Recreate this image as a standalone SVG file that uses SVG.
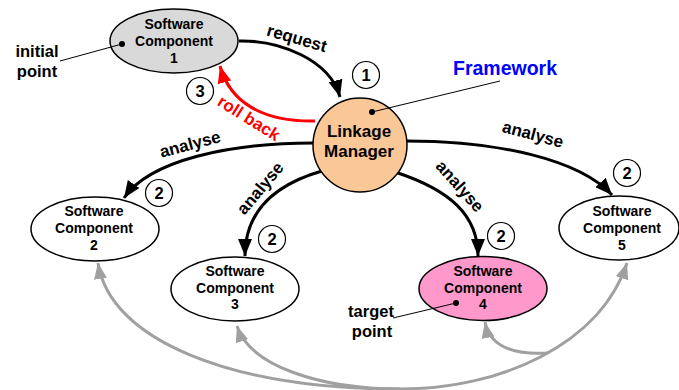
<svg xmlns="http://www.w3.org/2000/svg" width="679" height="390" viewBox="0 0 679 390">
<style>
.node{stroke:#000;stroke-width:1.5}
.nt{font-family:"Liberation Sans",Arial,sans-serif;font-weight:bold;font-size:14px;text-anchor:middle;fill:#000}
.lm{font-family:"Liberation Sans",Arial,sans-serif;font-weight:bold;font-size:17px;text-anchor:middle;fill:#000}
.lb{font-family:"Liberation Sans",Arial,sans-serif;font-weight:bold;font-size:16.5px;text-anchor:middle;fill:#000}
.al{font-family:"Liberation Sans",Arial,sans-serif;font-weight:bold;font-size:17px;text-anchor:middle;fill:#000}
.num{fill:#fff;stroke:#000;stroke-width:1.2}
.blk{fill:none;stroke:#000;stroke-width:3;marker-end:url(#ab)}
.red{fill:none;stroke:#f00;stroke-width:3;marker-end:url(#ar)}
.gry{fill:none;stroke:#a0a0a0;stroke-width:3}
.thin{stroke:#000;stroke-width:1;fill:none}
</style>
<defs>
<marker id="ab" markerUnits="userSpaceOnUse" markerWidth="18" markerHeight="14" refX="17" refY="7" orient="auto"><path d="M0,0 L17,7 L0,14 z" fill="#000"/></marker>
<marker id="ar" markerUnits="userSpaceOnUse" markerWidth="18" markerHeight="14" refX="17" refY="7" orient="auto"><path d="M0,0 L17,7 L0,14 z" fill="#f00"/></marker>
<marker id="ag" markerUnits="userSpaceOnUse" markerWidth="18" markerHeight="14" refX="16" refY="6.5" orient="auto-start-reverse"><path d="M0,0 L16,6.5 L0,13 z" fill="#a0a0a0"/></marker>
</defs>
<rect width="679" height="390" fill="#fff"/>
<g id="connectors">
<path class="blk" d="M239,41 C280,40 330,60 340,97"/>
<path class="red" d="M315,121 C262,122 230,102 220,66"/>
<path class="blk" d="M313,143 C230,143 150,160 124,198"/>
<path class="blk" d="M322,171 C270,186 245,215 245,256"/>
<path class="blk" d="M395,172 C450,190 478,215 478,256"/>
<path class="blk" d="M406,141 C500,141 580,160 612,195"/>
<path class="gry" d="M98,263 C110,340 230,389 400,389 C500,389 600,345 627,263" marker-start="url(#ag)" marker-end="url(#ag)"/>
<path class="gry" d="M237,326 C250,366 320,389 400,389" marker-start="url(#ag)"/>
<path class="gry" d="M485,322 C490,348 515,355 548,353" marker-start="url(#ag)"/>
<text class="al" transform="translate(297,38) rotate(16)" y="6">request</text>
<text class="al" transform="translate(249,118) rotate(32)" y="6" style="fill:#f00">roll back</text>
<text class="al" transform="translate(190,144) rotate(-15)" y="6">analyse</text>
<text class="al" transform="translate(260,188) rotate(-50)" y="6">analyse</text>
<text class="al" transform="translate(460,186) rotate(48)" y="6">analyse</text>
<text class="al" transform="translate(533,134) rotate(15)" y="6">analyse</text>
</g>
<g id="n1"><circle class="num" cx="366" cy="75" r="13.5"/><text class="lb" x="366" y="81">1</text></g>
<g id="n3"><circle class="num" cx="200" cy="91" r="13.5"/><text class="lb" x="200" y="97">3</text></g>
<g id="n2a"><circle class="num" cx="159" cy="193" r="13.5"/><text class="lb" x="159" y="199">2</text></g>
<g id="n2b"><circle class="num" cx="272" cy="239" r="13.5"/><text class="lb" x="272" y="245">2</text></g>
<g id="n2c"><circle class="num" cx="501" cy="236" r="13.5"/><text class="lb" x="501" y="242">2</text></g>
<g id="n2d"><circle class="num" cx="627" cy="173" r="13.5"/><text class="lb" x="627" y="179">2</text></g>
<g id="sc1">
<ellipse class="node" cx="174" cy="41" rx="64" ry="32" fill="#d9d9d9"/>
<text class="nt" x="174" y="29">Software</text><text class="nt" x="174" y="46">Component</text><text class="nt" x="174" y="63">1</text>
</g>
<g id="initial">
<line class="thin" x1="122" y1="44" x2="60" y2="61"/><circle cx="122" cy="44" r="3" fill="#000"/>
<text class="lb" x="37" y="57">initial</text><text class="lb" x="37" y="77">point</text>
</g>
<g id="lm">
<circle class="node" cx="360" cy="145" r="47" fill="#fac796"/>
<text class="lm" x="359" y="137">Linkage</text><text class="lm" x="359" y="157">Manager</text>
</g>
<g id="framework">
<line class="thin" x1="372" y1="112" x2="500" y2="81"/><circle cx="372" cy="112" r="3" fill="#000"/>
<text x="505" y="75" font-family="Liberation Sans, Arial, sans-serif" font-weight="bold" font-size="19.5" text-anchor="middle" fill="#0000ff">Framework</text>
</g>
<g id="sc2">
<ellipse class="node" cx="95" cy="229" rx="64" ry="32" fill="#fff"/>
<text class="nt" x="94" y="216">Software</text><text class="nt" x="94" y="233">Component</text><text class="nt" x="94" y="250">2</text>
</g>
<g id="sc3">
<ellipse class="node" cx="235" cy="289" rx="64" ry="32" fill="#fff"/>
<text class="nt" x="235" y="276">Software</text><text class="nt" x="235" y="293">Component</text><text class="nt" x="235" y="309">3</text>
</g>
<g id="sc4">
<ellipse class="node" cx="483" cy="288.5" rx="64" ry="32" fill="#ff99cc"/>
<text class="nt" x="483" y="276">Software</text><text class="nt" x="483" y="293">Component</text><text class="nt" x="483" y="309">4</text>
</g>
<g id="target">
<line class="thin" x1="456" y1="303" x2="393" y2="318"/><circle cx="456" cy="303" r="3" fill="#000"/>
<text class="lb" x="371" y="317">target</text><text class="lb" x="372" y="337">point</text>
</g>
<g id="sc5">
<ellipse class="node" cx="619" cy="228" rx="60" ry="32" fill="#fff"/>
<text class="nt" x="622" y="216">Software</text><text class="nt" x="622" y="233">Component</text><text class="nt" x="622" y="250">5</text>
</g>
</svg>
